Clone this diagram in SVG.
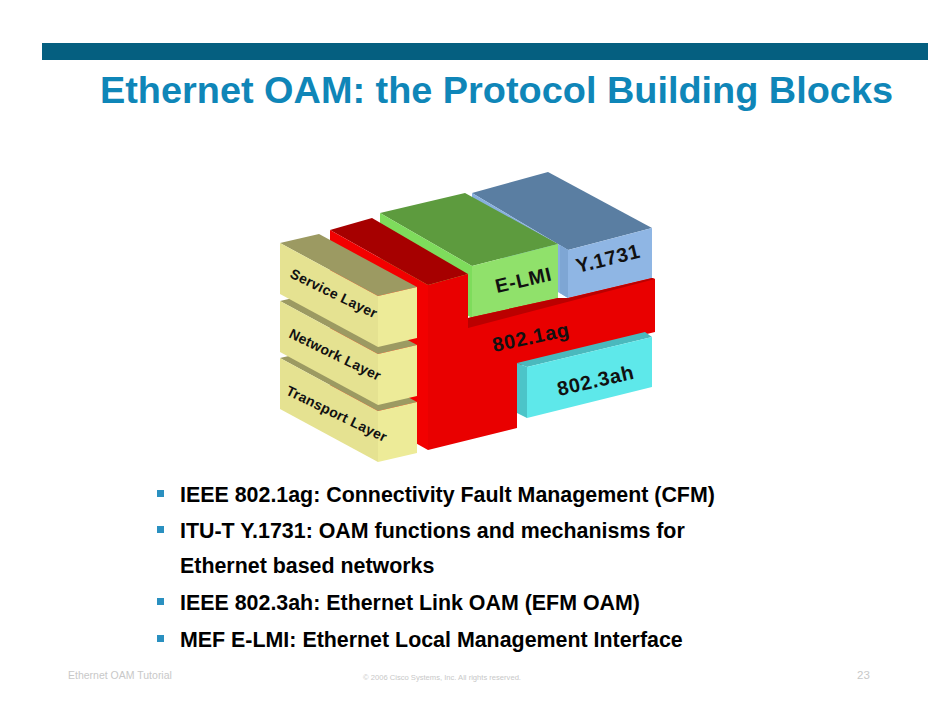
<svg xmlns="http://www.w3.org/2000/svg" xmlns:xlink="http://www.w3.org/1999/xlink" width="942" height="728" viewBox="0 0 942 728">
<style>
.ytop{fill:#9c9a62}
.yleft{fill:#e5e291}
.yfront{fill:#edeb98}
.lay{font-family:"Liberation Sans",Arial,sans-serif;font-weight:bold;font-size:14px;letter-spacing:0.3px;fill:#111}
.blk{font-family:"Liberation Sans",Arial,sans-serif;font-weight:bold;font-size:20px;letter-spacing:0.7px;fill:#111}
.bul{font-family:"Liberation Sans",Arial,sans-serif;font-weight:bold;font-size:21.4px;fill:#000}
.sq{fill:#2a90c0}
.foot{font-family:"Liberation Sans",Arial,sans-serif;fill:#c8c8c8}
</style>
<defs>
<g id="yblock">
<polygon class="ytop" points="280,243 319,234 417,287 378,296"/>
<polygon class="yleft" points="280,243 378,296 378,347 280,294"/>
<polygon class="yfront" points="378,296 417,287 417,338 378,347"/>
</g>
</defs>
<rect width="942" height="728" fill="#ffffff"/>
<g id="title-bar"><rect x="42" y="43" width="886" height="17" fill="#055f80"/></g>
<g id="title"><text x="100" y="103" textLength="793" lengthAdjust="spacingAndGlyphs" font-family="'Liberation Sans',Arial,sans-serif" font-weight="bold" font-size="37" fill="#0f86b8">Ethernet OAM: the Protocol Building Blocks</text></g>

<g id="block-y1731">
<polygon points="472,193 548,172 652,228 568,250" fill="#5a7ea2"/>
<polygon points="472,193 568,250 568,298 472,241" fill="#88b0de"/>
<polygon points="568,250 652,228 652,278 568,298" fill="#8fb6e4"/>
<polygon points="560,245 568,250 568,298 560,293" fill="#7ea6d4"/>
<text class="blk" x="578" y="273" transform="rotate(-14 578 273)">Y.1731</text>
</g>

<g id="block-elmi">
<polygon points="380,213 465,193 558,244 472,266" fill="#5d9b3e"/>
<polygon points="380,213 472,266 472,318 380,265" fill="#7edc5c"/>
<polygon points="472,266 558,244 558,298 472,318" fill="#90e16b"/>
<text class="blk" x="497" y="293" transform="rotate(-13 497 293)" style="font-size:19.5px;letter-spacing:0.9px">E-LMI</text>
</g>

<g id="block-8021ag">
<polygon points="330,230 372,218 468,274 428,285" fill="#a60000"/>
<polygon points="330,230 428,285 428,450 330,395" fill="#f20000"/>
<polygon points="428,285 468,274 468,318 558,298 568,298 652,278 655,279 655,332 517,366 517,428 428,450" fill="#e90000"/>
<polygon points="468,318 558,298 568,298 652,278 655,279 468,328" fill="#bb0000"/>
<text class="blk" x="494" y="352" transform="rotate(-12 494 352)">802.1ag</text>
</g>

<g id="block-8023ah">
<polygon points="517,363 645,332 652,337 527,367" fill="#4ab9bd"/>
<polygon points="517,363 527,367 527,418 517,413" fill="#4cc4c8"/>
<polygon points="527,367 652,337 652,387 527,418" fill="#5ee8ea"/>
<text class="blk" x="559" y="396" transform="rotate(-13 559 396)">802.3ah</text>
</g>

<g id="transport-layer">
<use xlink:href="#yblock" href="#yblock" transform="translate(0,115)"/>
<text class="lay" x="285" y="394" transform="rotate(26 285 394)">Transport Layer</text>
</g>
<g id="network-layer">
<use xlink:href="#yblock" href="#yblock" transform="translate(0,58)"/>
<text class="lay" x="288" y="337" transform="rotate(26 288 337)">Network Layer</text>
</g>
<g id="service-layer">
<use xlink:href="#yblock" href="#yblock"/>
<text class="lay" x="289" y="277" transform="rotate(26 289 277)">Service Layer</text>
</g>

<g id="bullets">
<rect class="sq" x="157" y="490" width="7" height="7"/>
<text class="bul" x="180" y="502">IEEE 802.1ag: Connectivity Fault Management (CFM)</text>
<rect class="sq" x="157" y="526" width="7" height="7"/>
<text class="bul" x="180" y="538">ITU-T Y.1731: OAM functions and mechanisms for</text>
<text class="bul" x="180" y="573">Ethernet based networks</text>
<rect class="sq" x="157" y="598" width="7" height="7"/>
<text class="bul" x="180" y="610">IEEE 802.3ah: Ethernet Link OAM (EFM OAM)</text>
<rect class="sq" x="157" y="635" width="7" height="7"/>
<text class="bul" x="180" y="647">MEF E-LMI: Ethernet Local Management Interface</text>
</g>

<g id="footer">
<text class="foot" x="68" y="679" font-size="10.5">Ethernet OAM Tutorial</text>
<text class="foot" x="442" y="680" font-size="7.6" text-anchor="middle">© 2006 Cisco Systems, Inc. All rights reserved.</text>
<text class="foot" x="857" y="679" font-size="11.5">23</text>
</g>
</svg>
